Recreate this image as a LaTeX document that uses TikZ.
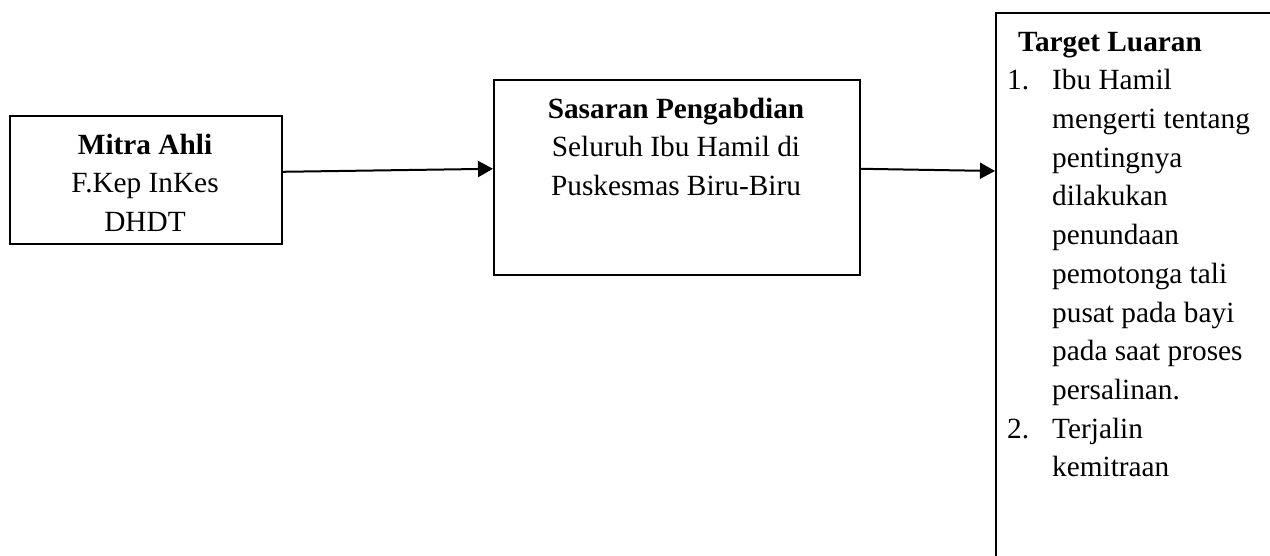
\documentclass[tikz,border=0pt]{standalone}
\usepackage{fontspec}
\setmainfont{Liberation Serif}
\usetikzlibrary{arrows.meta,calc}
\newcommand{\bodyfont}{\fontsize{29.3}{38.7}\selectfont}
\begin{document}
\begin{tikzpicture}[x=1pt,y=-1pt,
  boxstyle/.style={draw=black, line width=1.6pt, inner sep=0pt, anchor=north west},
  txt/.style={inner sep=0pt, font=\bodyfont, text=black},
  conn/.style={line width=2pt, -{Triangle[length=15pt,width=16pt]}}]
\useasboundingbox (0,0) rectangle (1270,556);
\clip (0,0) rectangle (1270,556);
\fill[white] (0,0) rectangle (1270,556);
% boxes
\node[boxstyle, minimum width=272pt, minimum height=128pt] (b1) at (9,115) {};
\node[boxstyle, minimum width=366pt, minimum height=195pt] (b2) at (493,79) {};
\node[boxstyle, minimum width=300pt, minimum height=600pt] (b3) at (995,12) {};
% texts
\node[txt, anchor=north, align=center] (t1) at (145,126.9)
  {\strut\textbf{Mitra Ahli}\\F.Kep InKes\\DHDT};
\node[txt, anchor=north, align=center] (t2) at (676,90.9)
  {\strut\textbf{Sasaran Pengabdian}\\Seluruh Ibu Hamil di\\Puskesmas Biru-Biru};
\node[txt, anchor=north west, align=left] (t3) at (1007,23.9)
  {\strut\hspace*{11pt}\textbf{Target Luaran}\\
   \makebox[45pt][l]{1.}Ibu Hamil\\
   \hspace*{45pt}mengerti tentang\\
   \hspace*{45pt}pentingnya\\
   \hspace*{45pt}dilakukan\\
   \hspace*{45pt}penundaan\\
   \hspace*{45pt}pemotonga tali\\
   \hspace*{45pt}pusat pada bayi\\
   \hspace*{45pt}pada saat proses\\
   \hspace*{45pt}persalinan.\\
   \makebox[45pt][l]{2.}Terjalin\\
   \hspace*{45pt}kemitraan};
% connectors
\coordinate (a1s) at ($(b1.east)+(0,-8)$);
\coordinate (a1e) at ($(b2.west)+(0,-8.5)$);
\coordinate (a2s) at ($(b2.east)+(0,-8.5)$);
\coordinate (a2e) at ($(b3.north west)+(0,159)$);
\draw[conn] (a1s) -- (a1e);
\draw[conn] (a2s) -- (a2e);
\end{tikzpicture}
\end{document}
